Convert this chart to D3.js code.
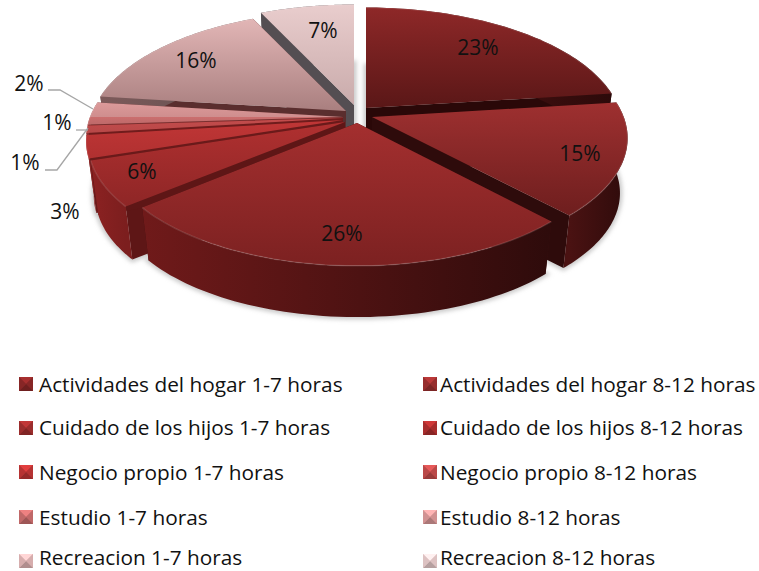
<!DOCTYPE html>
<html><head><meta charset="utf-8">
<script src="https://cdn.jsdelivr.net/npm/d3@7"></script>
<style>html,body{margin:0;background:#fff}svg{display:block}text{font-family:"Open Sans",Lato,sans-serif;fill:#111}</style>
</head><body><svg id="c" width="759" height="571"></svg>
<script>
const categories=["Actividades del hogar 1-7 horas","Actividades del hogar 8-12 horas","Cuidado de los hijos 1-7 horas","Cuidado de los hijos 8-12 horas","Negocio propio 1-7 horas","Negocio propio 8-12 horas","Estudio 1-7 horas","Estudio 8-12 horas","Recreacion 1-7 horas","Recreacion 8-12 horas"];
const values=[23,15,26,6,3,1,1,2,16,7];
const labels=["23%","15%","26%","6%","3%","1%","1%","2%","16%","7%"];
const topLight=["#8e2828","#9e3030","#a42f2f","#b03030","#c03636","#c44c4c","#cb6e6e","#dc9a9a","#e2b6b6","#e9cdcd"];
const topDark=["#5a1717","#6e1e1e","#7c2121","#8e2626","#b03030","#b84848","#bd6a6a","#cf8e8e","#a97f7f","#c9abab"];
const wallLight=["#5c1616","#4a1212","#701a1a","#8c2222","#9c2a2a","#a03a3a","#a85050","#a86a6a","#7d5a5a","#544e52"];
const wallDark=["#2c0a0a","#2e0b0b","#2e0b0b","#7c1e1e","#8c2626","#8f3030","#904040","#905050","#605050","#544e52"];
const radial=["#2a0808","#2e0b0b","#3a0e0e","#5e1616","#6a1a1a","#701c1c","#7a3030","#6b3030","#5a2e2e","#544e52"];

const apexX=[366,372,357,345,343,343,343,343,346,354];
const apexY=[108,117,123,122,120,118,117,117,111,105];
const widthFactor=[1,0.995,0.98,1,1,1,1,1,1,1];
const labelX=[478,580,342,142,65,57,25,29,196,323];
const labelY=[48,154,234,172,212,123,163,84,61,31];
const R=253,K=118,P=0.174,DEPTH=55.5;

const svg=d3.select("#c"),defs=svg.append("defs");
const f=defs.append("filter").attr("id","blur").attr("x","-10%").attr("y","-10%").attr("width","120%").attr("height","120%");
f.append("feGaussianBlur").attr("stdDeviation",2);

function proj(i,a,r,d){
  const u=Math.sin(a)*r,v=-Math.cos(a)*r,s=1/(1-P*v)*(1-0.03*d);
  return [apexX[i]+R*widthFactor[i]*u*s,apexY[i]+K*v*s+DEPTH*d];
}
function grad(id,x1,y1,x2,y2,c1,c2){
  const g=defs.append("linearGradient").attr("id",id).attr("gradientUnits","userSpaceOnUse")
    .attr("x1",x1).attr("y1",y1).attr("x2",x2).attr("y2",y2);
  g.append("stop").attr("offset",0).attr("stop-color",c1);
  g.append("stop").attr("offset",1).attr("stop-color",c2);
  return `url(#${id})`;
}
const line=d3.line();
const arcs=d3.pie().sort(null).value(d=>d)(values);
function arcPts(i,d,n){const A=arcs[i];return d3.range(n+1).map(k=>proj(i,A.startAngle+(A.endAngle-A.startAngle)*k/n,1,d));}

const sh=svg.append("g").attr("filter","url(#blur)");
arcs.forEach((A,i)=>{
  const p=[proj(i,0,0,1),...arcPts(i,1,60)];
  sh.append("path").attr("d",line(p)+"Z").attr("fill","#b4b4b4").attr("stroke","#b4b4b4").attr("stroke-width",5).attr("opacity",.7);
});

const order=[9,0,8,7,6,5,4,1,3,2];
order.forEach(i=>{
  const A=arcs[i],g=svg.append("g"),c0=proj(i,0,0,0),c1=proj(i,0,0,1);
  const a0=proj(i,A.startAngle,1,0),b0=proj(i,A.startAngle,1,1),a1=proj(i,A.endAngle,1,0),b1=proj(i,A.endAngle,1,1);
  const top=arcPts(i,0,60),bot=arcPts(i,1,60);
  g.append("path").attr("d",line([c0,a0,b0,c1])+"Z").attr("fill",radial[i]);
  g.append("path").attr("d",line([c0,a1,b1,c1])+"Z").attr("fill",radial[i]);
  const xs=top.map(p=>p[0]),ys=top.map(p=>p[1]).concat(c0[1]);
  const wg=grad("w"+i,d3.min(xs),0,d3.max(xs),0,wallLight[i],wallDark[i]);
  g.append("path").attr("d",line(top.concat(bot.slice().reverse()))+"Z").attr("fill",wg);
  const tg=grad("t"+i,0,d3.min(ys),0,d3.max(ys),topLight[i],topDark[i]);
  g.append("path").attr("d",line([c0,...top])+"Z").attr("fill",tg);
  g.append("path").attr("d",line(top)).attr("fill","none").attr("stroke","#fff").attr("stroke-opacity",.12).attr("stroke-width",1.5);
});

const leaders=[[[48,90],[60,90],[93,109]],[[76,130],[88,130]],[[45,170],[57,170],[88,128]]];
svg.append("g").selectAll("path").data(leaders).join("path").attr("d",d=>line(d))
  .attr("fill","none").attr("stroke","#a6a6a6").attr("stroke-width",1.3);

svg.append("g").selectAll("text").data(labels).join("text")
  .attr("x",(d,i)=>labelX[i]).attr("y",(d,i)=>labelY[i]).attr("text-anchor","middle").attr("dy","0.35em")
  .attr("font-size",21).text(d=>d);

const legendRowY=[385,428,473,518,558],swatchRowY=[384,428,472,517,561],legendColX=[19,423],legendTextX=[39,440],SW=14;
categories.forEach((c,i)=>{
  const col=i%2,row=Math.floor(i/2),x=legendColX[col],y=swatchRowY[row]-SW/2;
  const g=svg.append("g").attr("transform",`translate(${x},${y})`);
  const m=[SW/2,SW/2],cs=[[[0,0],[SW,0]],[[SW,0],[SW,SW]],[[SW,SW],[0,SW]],[[0,SW],[0,0]]];
  const base=d3.color(topLight[i]);
  const fills=[base.brighter(.45),base.darker(.15),base.darker(.7),base.darker(.15)];
  g.append("rect").attr("width",SW).attr("height",SW).attr("fill",base);
  cs.forEach((e,k)=>g.append("path").attr("d",line([e[0],e[1],m])+"Z").attr("fill",fills[k]));
  svg.append("text").attr("x",legendTextX[col]).attr("y",legendRowY[row]).attr("dy","0.35em").attr("font-size",20.8).text(c);
});
</script></body></html>
